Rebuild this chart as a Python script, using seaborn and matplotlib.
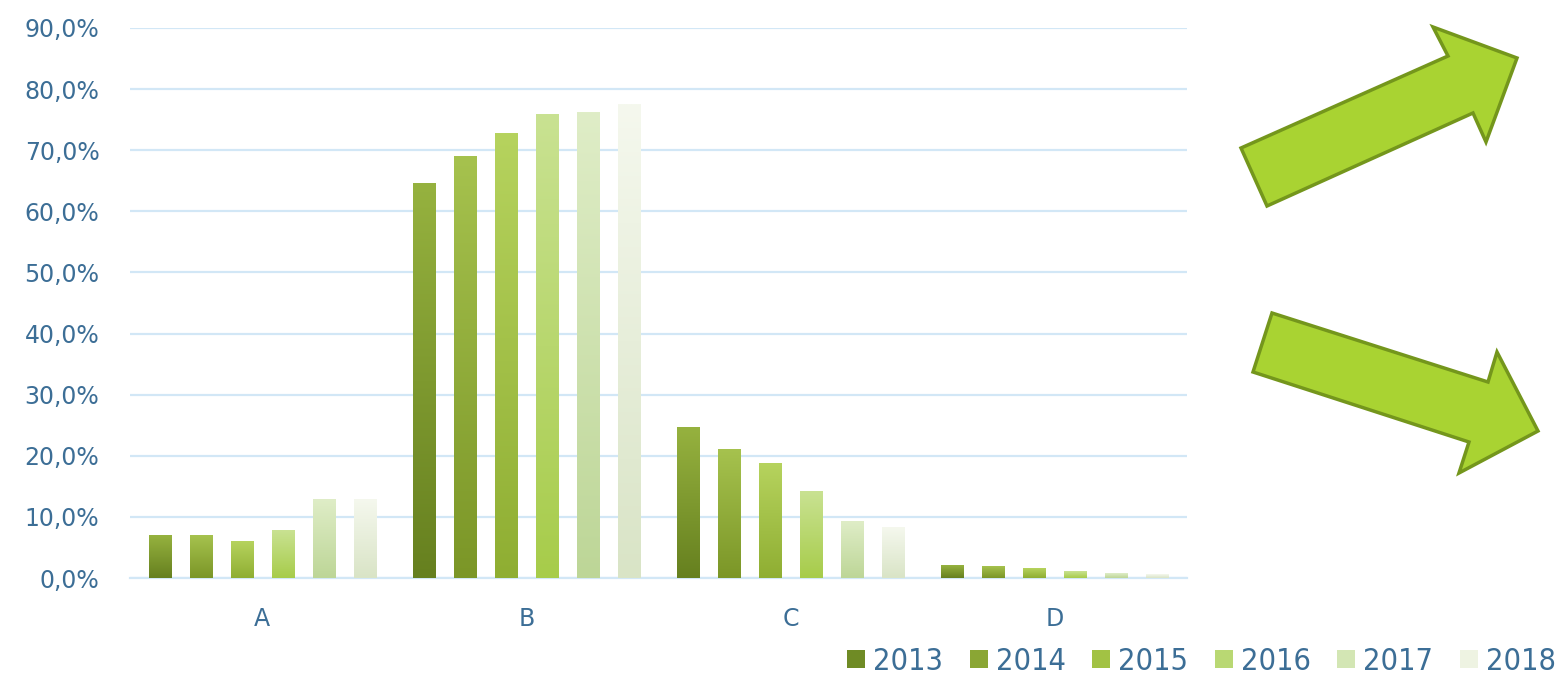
import numpy as np
import pandas as pd
import matplotlib.pyplot as plt
import seaborn as sns
from matplotlib.patches import Patch, Polygon
from matplotlib.colors import LinearSegmentedColormap

# Data (percent)
CATEGORIES = ['A', 'B', 'C', 'D']
YEARS = ['2013', '2014', '2015', '2016', '2017', '2018']
VALUES = {
    '2013': [7.0, 64.6, 24.7, 2.1],
    '2014': [7.0, 68.9, 21.1, 1.8],
    '2015': [6.0, 72.8, 18.8, 1.5],
    '2016': [7.7, 75.8, 14.2, 1.1],
    '2017': [12.9, 76.1, 9.3, 0.8],
    '2018': [12.9, 77.4, 8.3, 0.5],
}
Y_TICKS = [0, 10, 20, 30, 40, 50, 60, 70, 80, 90]

# Gradient colours for each year (bottom, top)
GRADIENTS = {
    '2013': ('#66801f', '#96b23f'),
    '2014': ('#7b9627', '#a6c24e'),
    '2015': ('#8fae32', '#b6d35e'),
    '2016': ('#a7cc4a', '#c9e292'),
    '2017': ('#bdd697', '#dfedc7'),
    '2018': ('#d9e4c6', '#f5f8ee'),
}
LEGEND_COLS = ['#6f8b25', '#8aa634', '#a2c244', '#b9d873', '#d3e6b4', '#eef3e2']

TEXT_COL = '#3c6e96'
GRID_COL = '#d2e7f6'
ARROW_FILL = '#a9d332'
ARROW_EDGE = '#74961c'

sns.set_style('white')
plt.rcParams['font.family'] = ['DejaVu Sans']


def main():

    # Long-form table for seaborn
    rows = []
    for year in YEARS:
        for cat, val in zip(CATEGORIES, VALUES[year]):
            rows.append({'Category': cat, 'Year': year, 'Value': val})
    df = pd.DataFrame(rows)

    fig = plt.figure(figsize=(15.65, 6.79), dpi=100)
    ax = fig.add_axes([0.0831, 0.1487, 0.6754, 0.8101])

    sns.barplot(data=df, x='Category', y='Value', hue='Year',
                hue_order=YEARS, order=CATEGORIES,
                palette=LEGEND_COLS, width=0.93, gap=0.46,
                legend=False, ax=ax, zorder=3)

    # Replace flat bars by vertical gradients
    xlim = ax.get_xlim()
    ax.set_ylim(0, 90)
    for year, cont in zip(YEARS, ax.containers):
        cmap = LinearSegmentedColormap.from_list(year, GRADIENTS[year])
        grad = np.linspace(0, 1, 256).reshape(-1, 1)
        for bar in cont:
            x0, y0 = bar.get_x(), bar.get_y()
            w, h = bar.get_width(), bar.get_height()
            bar.set_facecolor('none')
            bar.set_edgecolor('none')
            ax.imshow(grad, cmap=cmap, origin='lower', aspect='auto',
                      extent=[x0, x0 + w, y0, y0 + h], zorder=3)
    ax.set_xlim(xlim)
    ax.set_ylim(0, 90)

    # Axes formatting
    ax.set_yticks(Y_TICKS)
    ax.set_yticklabels([f'{v:.1f}'.replace('.', ',') + '%' for v in Y_TICKS])
    ax.yaxis.grid(True, color=GRID_COL, linewidth=1.6, zorder=0)
    ax.set_axisbelow(True)
    for side in ['top', 'right', 'left']:
        ax.spines[side].set_visible(False)
    ax.spines['bottom'].set_color(GRID_COL)
    ax.spines['bottom'].set_linewidth(1.6)
    ax.tick_params(axis='y', length=0, pad=22, labelsize=17,
                   labelcolor=TEXT_COL)
    ax.tick_params(axis='x', length=0, pad=21, labelsize=17,
                   labelcolor=TEXT_COL)
    ax.set_xlabel('')
    ax.set_ylabel('')

    # Legend along the bottom right
    handles = [Patch(facecolor=c, edgecolor='none') for c in LEGEND_COLS]
    fig.legend(handles, YEARS, loc='lower right',
               bbox_to_anchor=(1.0117, -0.036),
               ncol=6, frameon=False, handlelength=0.59, handleheight=0.52,
               handletextpad=0.26, columnspacing=0.87,
               prop={'size': 22, 'stretch': 'condensed'},
               labelcolor=TEXT_COL)

    # Decorative arrows on the right
    up_arrow = [(1241, 148), (1448, 56), (1433, 27), (1517, 58),
                (1486, 142), (1473, 113), (1267, 206)]
    down_arrow = [(1272, 313), (1488, 382), (1497, 352), (1538, 431),
                  (1459, 473), (1469, 442), (1253, 372)]
    for pts in (up_arrow, down_arrow):
        xy = [(px / 1565, 1 - py / 679) for px, py in pts]
        fig.add_artist(Polygon(xy, closed=True, transform=fig.transFigure,
                               facecolor=ARROW_FILL, edgecolor=ARROW_EDGE,
                               linewidth=2.5, joinstyle='miter'))

    fig.savefig('out.png', dpi=100)
    plt.close()


if __name__ == "__main__":
    main()
